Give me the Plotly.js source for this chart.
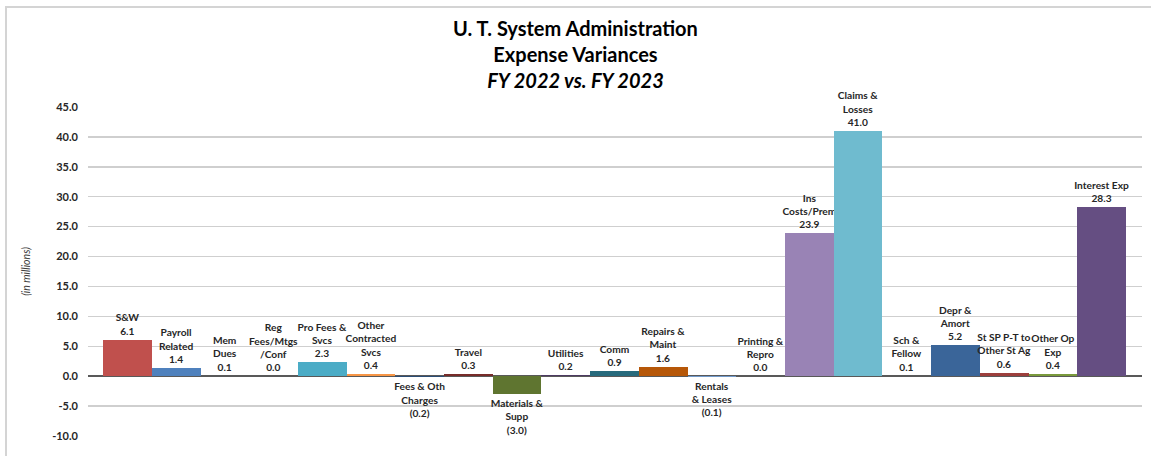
<!DOCTYPE html>
<html>
<head>
<meta charset="utf-8">
<script src="https://cdn.plot.ly/plotly-3.0.1.min.js"></script>
<style>
  html, body { margin: 0; padding: 0; background: #ffffff; }
  #wrap { position: relative; width: 1151px; height: 456px; overflow: hidden; }
  #frame { position: absolute; left: 5px; top: 6px; width: 1160px; height: 470px;
           border-top: 2px solid #d4d4d4; border-left: 2px solid #d4d4d4; pointer-events: none; }
  #chart { position: absolute; left: 0; top: 0; width: 1151px; height: 456px; }
</style>
</head>
<body>
<div id="wrap">
  <div id="chart"></div>
  <div id="frame"></div>
</div>
<script>
// ---- data ----
const categories = [
  "S&W", "Payroll<br>Related", "Mem<br>Dues", "Reg<br>Fees/Mtgs<br>/Conf", "Pro Fees &<br>Svcs",
  "Other<br>Contracted<br>Svcs", "Fees & Oth<br>Charges", "Travel", "Materials &<br>Supp", "Utilities",
  "Comm", "Repairs &<br>Maint", "Rentals<br>& Leases", "Printing &<br>Repro", "Ins<br>Costs/Prem",
  "Claims &<br>Losses", "Sch &<br>Fellow", "Depr &<br>Amort", "St SP P-T to<br>Other St Ag", "Other Op<br>Exp",
  "Interest Exp"
];
const variances = [
  6.1, 1.4, 0.1, 0.0, 2.3,
  0.4, -0.2, 0.3, -3.0, 0.2,
  0.9, 1.6, -0.1, 0.0, 23.9,
  41.0, 0.1, 5.2, 0.6, 0.4,
  28.3
];
const barColors = [
  "#C0504D", "#4F81BD", "#9BBB59", "#8064A2", "#4BACC6",
  "#F79646", "#2C4D75", "#772C2A", "#5F7530", "#4D3B62",
  "#276A7C", "#B65708", "#729ACA", "#CD7371", "#9983B5",
  "#6FBBCF", "#F9AB6B", "#3A6599", "#9C3F3C", "#7A9A3C",
  "#654E82"
];
const yTicks = [-10, -5, 0, 5, 10, 15, 20, 25, 30, 35, 40, 45];
const yTickText = yTicks.map(v => v.toFixed(1));

function fmt(v) {
  const s = Math.abs(v).toFixed(1);
  return v < 0 ? "(" + s + ")" : s;
}
const labels = categories.map((c, i) => c + "<br>" + fmt(variances[i]));

const FONT = "Lato, 'Open Sans', 'Liberation Sans', sans-serif";

const trace = {
  type: "bar",
  x: categories,
  y: variances,
  marker: { color: barColors, line: { width: 0 } },
  text: labels,
  textposition: "outside",
  textangle: 0,
  constraintext: "none",
  cliponaxis: false,
  textfont: { family: FONT, size: 10.2, color: "#262626", weight: 700 },
  hoverinfo: "x+y"
};

const layout = {
  width: 1151,
  height: 456,
  paper_bgcolor: "#ffffff",
  plot_bgcolor: "#ffffff",
  margin: { l: 88, r: 9, t: 107, b: 20 },
  bargap: 0,
  showlegend: false,
  font: { family: FONT, color: "#262626" },
  title: {
    text: "<b>U. T. System Administration<br>Expense Variances<br><i>FY 2022 vs. FY 2023</i></b>",
    font: { family: FONT, size: 20, color: "#000000" },
    x: 0.5, xanchor: "center",
    y: 1 - 36 / 456, yanchor: "middle", yref: "container"
  },
  xaxis: {
    type: "category",
    range: [-0.81, 20.83],
    showticklabels: false,
    showgrid: false,
    zeroline: false,
    showline: false,
    ticks: ""
  },
  yaxis: {
    range: [-10, 45],
    tickvals: yTicks,
    ticktext: yTickText,
    tickfont: { family: FONT, size: 11, color: "#262626", weight: 700 },
    ticklabelstandoff: 9,
    showgrid: true,
    gridcolor: "#cfcfcf",
    gridwidth: 1.5,
    zeroline: true,
    zerolinecolor: "#595959",
    zerolinewidth: 2,
    showline: false,
    ticks: "",
    title: {
      text: "<i>(in millions)</i>",
      font: { family: FONT, size: 10.5, color: "#404040" },
      standoff: 19
    }
  }
};

Plotly.newPlot("chart", [trace], layout, { displayModeBar: false, staticPlot: true });
</script>
</body>
</html>
